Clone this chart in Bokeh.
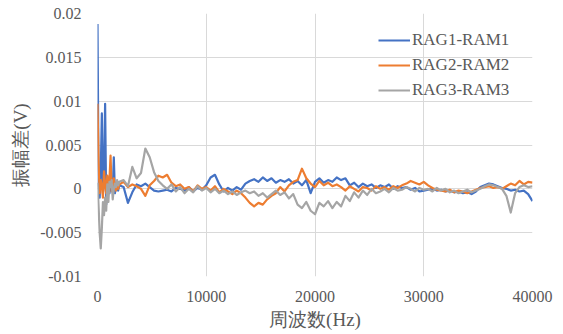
import numpy as np
from bokeh.plotting import figure
from bokeh.models import (Range1d, FixedTicker, CustomJSTickFormatter, Legend, LegendItem)
from bokeh.embed import file_html
from bokeh.resources import INLINE

# frequency grid (Hz): dense near 0, then every 400 Hz
freq_low = list(range(0, 2001, 100))
freq_high = list(range(2400, 40001, 400))
freq = freq_low + freq_high

series_names = ["RAG1-RAM1", "RAG2-RAM2", "RAG3-RAM3"]
series_colors = ["#4472C4", "#ED7D31", "#A5A5A5"]

# amplitude difference in mV
rag1_mv = [
    18.8, 0.5, -1.0, 2.0, 8.6, -0.5, 1.0, 9.7, -1.8, -0.5, 0.5,
    -0.5, 0.3, 0.0, -0.3, 3.6, -0.5, 0.3, 0.5, -0.2, 0.4,
    0.2, -1.6, -0.4, 0.5, 0.3, 0.6, 0.2, -0.2, -0.3, -0.2,
    -0.1, -0.3, 0.1, 0.0, -0.2, 0.2, -0.3, 0.1, -0.1, 0.4,
    1.3, 1.6, 0.5, -0.3, 0.1, -0.2, 0.2, -0.1, 0.6, 0.9,
    1.1, 0.8, 1.3, 0.9, 1.2, 0.7, 1.0, 0.8, 1.1, 0.6,
    0.9, 0.4, 1.0, -0.5, 0.8, 1.2, 0.7, 1.0, 0.8, 1.3,
    1.0, 1.2, 0.4, 0.7, 0.2, 0.6, 0.3, 0.5, 0.1, 0.4,
    0.2, 0.5, 0.0, 0.3, 0.1, 0.2, -0.1, 0.1, -0.3, -0.2,
    -0.1, 0.0, -0.2, -0.1, -0.3, -0.2, -0.4, -0.3, -0.5, -0.4,
    -0.6, -0.3, 0.2, 0.4, 0.6, 0.5, 0.3, 0.1, 0.0, -0.2,
    -0.1, -0.3, -0.2, -0.6, -1.4,
]
rag2_mv = [
    9.7, 3.0, -0.5, 1.0, 0.3, -1.0, 2.0, 0.5, -0.5, 1.5, 0.2,
    1.0, 3.8, -0.3, 0.5, 1.2, 0.3, -0.2, 0.8, 0.0, 0.5,
    0.8, 0.2, 0.5, 0.3, 0.0, -0.8, 0.4, 0.9, 1.5, 1.3,
    1.6, 0.7, 0.3, 0.5, 0.0, 0.2, -0.3, 0.4, 0.0, 0.2,
    -0.2, 0.3, -0.4, 0.0, -0.3, -0.6, -0.2, -0.5, -1.0, -1.6,
    -2.0, -1.6, -1.8, -1.2, -0.8, -0.5, 0.2, -0.3, 0.4, 0.8,
    1.0, 2.3, 1.2, 0.6, 0.2, 0.9, 0.4, 0.7, 0.3, 0.5,
    0.2, -0.2, 0.3, 0.0, -0.3, 0.2, 0.1, -0.2, 0.3, 0.0,
    0.2, -0.1, 0.3, 0.1, 0.4, 0.6, 0.9, 0.7, 0.5, 0.8,
    0.4, 0.1, -0.1, -0.2, -0.3, -0.1, -0.4, -0.2, -0.3, -0.5,
    -0.3, -0.1, 0.1, 0.2, 0.3, 0.1, 0.2, 0.0, 0.3, 0.6,
    0.4, 0.9, 0.5, 0.8, 0.7,
]
rag3_mv = [
    0.7, -2.0, -5.0, -6.8, -4.5, -1.5, -3.0, -1.0, -2.5, 0.5, -1.5,
    0.8, 0.2, 1.0, -1.2, 0.0, 0.6, 0.2, 1.0, 0.4, 0.8,
    1.0, 0.3, 2.5, 1.2, 1.8, 4.6, 3.6, 1.9, 0.9, 0.4,
    0.0, 0.5, -0.3, 0.2, -0.5, 0.0, -0.4, 0.3, -0.2, 0.1,
    -0.4, 0.0, -0.5, -0.2, -0.6, -0.3, -0.7, -0.4, -0.2, -0.5,
    -0.3, -0.8, -0.5, -1.0, -0.6, -0.2, -0.7, -0.4, -1.1, -0.6,
    -1.8, -2.2, -1.5, -2.5, -2.9, -1.6, -2.0, -1.4, -2.2, -1.5,
    -2.0, -0.8, -1.4, -0.4, -1.0, -0.2, -0.7, 0.0, -0.5, -0.3,
    0.0, -0.4, 0.1, -0.2, -0.1, 0.2, 0.0, -0.3, 0.1, -0.1,
    0.0, -0.3, 0.1, -0.2, 0.0, -0.4, -0.2, -0.5, -0.3, -0.1,
    -0.4, -0.2, 0.0, 0.3, 0.5, 0.4, 0.2, 0.0, -0.8, -2.7,
    -0.5, 0.2, 0.4, 0.2, 0.3,
]

x_ticks = [0, 10000, 20000, 30000, 40000]
y_ticks = [-0.01, -0.005, 0, 0.005, 0.01, 0.015, 0.02]
x_title = "周波数(Hz)"
y_title = "振幅差(V)"

SERIF = "Liberation Serif"
TXT = "#595959"

p = figure(width=563, height=334, output_backend="svg", toolbar_location=None,
           x_range=Range1d(0, 40000), y_range=Range1d(-0.01, 0.02),
           min_border_left=97, min_border_right=31, min_border_top=13,
           min_border_bottom=58)
p.outline_line_color = None
p.background_fill_color = "white"
p.border_fill_color = "white"

renderers = []
for mv, col in zip([rag1_mv, rag2_mv, rag3_mv], series_colors):
    y = np.array(mv) / 1000.0
    r = p.line(freq, y, line_color=col, line_width=2.2, line_join="round")
    renderers.append(r)

p.xaxis.ticker = FixedTicker(ticks=x_ticks)
p.yaxis.ticker = FixedTicker(ticks=y_ticks)
p.xaxis.formatter = CustomJSTickFormatter(code="return String(Math.round(tick));")
p.yaxis.formatter = CustomJSTickFormatter(code="return String(Number(tick.toPrecision(6)));")

for ax in (p.xaxis, p.yaxis):
    ax.axis_line_color = None
    ax.major_tick_line_color = None
    ax.minor_tick_line_color = None
    ax.major_tick_out = 0
    ax.major_tick_in = 0
    ax.major_label_text_font = SERIF
    ax.major_label_text_font_size = "16px"
    ax.major_label_text_color = TXT
    ax.axis_label_text_font = SERIF
    ax.axis_label_text_font_size = "19px"
    ax.axis_label_text_font_style = "normal"
    ax.axis_label_text_color = TXT

p.xaxis.major_label_standoff = 14
p.yaxis.major_label_standoff = 16
p.xaxis.axis_label = x_title
p.yaxis.axis_label = y_title
p.xaxis.axis_label_standoff = 4
p.yaxis.axis_label_standoff = 6

p.xgrid.grid_line_color = "#d9d9d9"
p.ygrid.grid_line_color = "#d9d9d9"
p.xgrid.grid_line_width = 1
p.ygrid.grid_line_width = 1

legend = Legend(items=[LegendItem(label=n, renderers=[r]) for n, r in zip(series_names, renderers)],
                location=(281, 176))
legend.background_fill_alpha = 0
legend.border_line_color = None
legend.label_text_font = SERIF
legend.label_text_font_size = "17px"
legend.label_text_color = TXT
legend.glyph_width = 32
legend.glyph_height = 20
legend.label_height = 20
legend.spacing = 5
legend.padding = 0
legend.margin = 0
legend.label_standoff = 2
p.add_layout(legend)

open("out.html", "w").write(file_html(p, INLINE))
